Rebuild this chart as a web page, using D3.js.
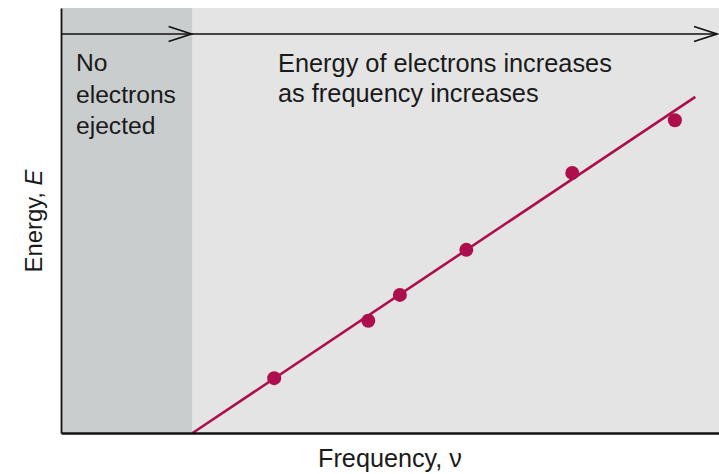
<!DOCTYPE html>
<html>
<head>
<meta charset="utf-8">
<script src="https://cdn.jsdelivr.net/npm/d3@7"></script>
<style>
  html, body { margin: 0; padding: 0; background: #ffffff; }
  svg { display: block; }
  text { font-family: "Liberation Sans", Arial, sans-serif; fill: #1a1a1a; }
</style>
</head>
<body>
<svg id="chart" width="719" height="474"></svg>
<script>
// ---- data ----
const frequency = [3.24, 4.67, 5.15, 6.16, 7.77, 9.33];
const energy    = [1.29, 2.64, 3.25, 4.31, 6.12, 7.36];
const thresholdFrequency = 2.0;
const fitLineFrequency = [2.0, 9.64];
const fitLineEnergy = [0.0, 7.91];
const xDomain = [0, 10];
const yDomain = [0, 10];
const regionLabelLeft = ["No", "electrons", "ejected"];
const regionLabelRight = ["Energy of electrons increases", "as frequency increases"];
const xTitle = "Frequency, ν";
const yTitleMain = "Energy, ";
const yTitleVar = "E";

(function () {
// ---- layout ----
const svg = d3.select("#chart");
const mLeft = 61, mRight = 719, mTop = 8, mBottom = 433;
const x = d3.scaleLinear().domain(xDomain).range([mLeft, mRight]);
const y = d3.scaleLinear().domain(yDomain).range([mBottom, mTop]);

const crimson = "#ad0f4c";

// background regions
svg.append("rect")
  .attr("x", x(xDomain[0])).attr("y", y(yDomain[1]))
  .attr("width", x(thresholdFrequency) - x(xDomain[0]))
  .attr("height", y(yDomain[0]) - y(yDomain[1]))
  .attr("fill", "#c9cdce");
svg.append("rect")
  .attr("x", x(thresholdFrequency)).attr("y", y(yDomain[1]))
  .attr("width", x(xDomain[1]) - x(thresholdFrequency))
  .attr("height", y(yDomain[0]) - y(yDomain[1]))
  .attr("fill", "#e4e4e4");

// top arrow line
const arrowY = 34;
svg.append("line")
  .attr("x1", mLeft).attr("x2", 717)
  .attr("y1", arrowY).attr("y2", arrowY)
  .attr("stroke", "#111").attr("stroke-width", 1.6);
function chevron(tipX) {
  svg.append("path")
    .attr("d", `M${tipX - 23},${arrowY - 7.5} L${tipX},${arrowY} L${tipX - 23},${arrowY + 7.5}`)
    .attr("fill", "none").attr("stroke", "#111").attr("stroke-width", 1.6);
}
chevron(x(thresholdFrequency) - 1);
chevron(717);

// fit line
const line = d3.line().x(d => x(d[0])).y(d => y(d[1]));
svg.append("path")
  .datum(fitLineFrequency.map((f, i) => [f, fitLineEnergy[i]]))
  .attr("d", line)
  .attr("fill", "none").attr("stroke", crimson).attr("stroke-width", 2.6);

// points
svg.selectAll("circle.pt")
  .data(frequency.map((f, i) => [f, energy[i]]))
  .join("circle")
  .attr("class", "pt")
  .attr("cx", d => x(d[0])).attr("cy", d => y(d[1]))
  .attr("r", 7).attr("fill", crimson);

// axes (domain lines only)
const xAxis = d3.axisBottom(x).tickValues([]).tickSizeOuter(0);
const yAxis = d3.axisLeft(y).tickValues([]).tickSizeOuter(0);
svg.append("g").attr("transform", `translate(0,${mBottom})`).call(xAxis)
  .select(".domain").attr("stroke", "#111").attr("stroke-width", 2.4);
svg.append("g").attr("transform", `translate(${mLeft},0)`).call(yAxis)
  .select(".domain").attr("stroke", "#111").attr("stroke-width", 1.8);

// helper: fit text to target width
function fitText(sel, targetWidth, baseSize) {
  sel.style("font-size", baseSize + "px");
  const w = sel.node().getComputedTextLength();
  sel.style("font-size", (baseSize * targetWidth / w) + "px");
}

// region labels
const leftBaselines = [71, 103, 134];
const leftTexts = regionLabelLeft.map((t, i) =>
  svg.append("text").attr("x", 76).attr("y", leftBaselines[i])
    .text(t).style("font-size", "23px"));
fitText(leftTexts[1], 100, 23);
const lfs = parseFloat(leftTexts[1].style("font-size"));
leftTexts.forEach(s => s.style("font-size", lfs + "px"));

const rightBaselines = [72, 102];
const r0 = svg.append("text").attr("x", 278).attr("y", rightBaselines[0]).text(regionLabelRight[0]);
fitText(r0, 334, 23);
const fs = parseFloat(r0.style("font-size"));
svg.append("text").attr("x", 278).attr("y", rightBaselines[1]).text(regionLabelRight[1]).style("font-size", fs + "px");

// axis titles
const xt = svg.append("text").attr("x", 390).attr("y", 467)
  .attr("text-anchor", "middle").text(xTitle);
fitText(xt, 144, 23);

const yt = svg.append("text")
  .attr("transform", `translate(42,221) rotate(-90)`)
  .attr("text-anchor", "middle");
yt.append("tspan").text(yTitleMain);
yt.append("tspan").style("font-style", "italic").text(yTitleVar);
fitText(yt, 103, 21);
})();
</script>
</body>
</html>
